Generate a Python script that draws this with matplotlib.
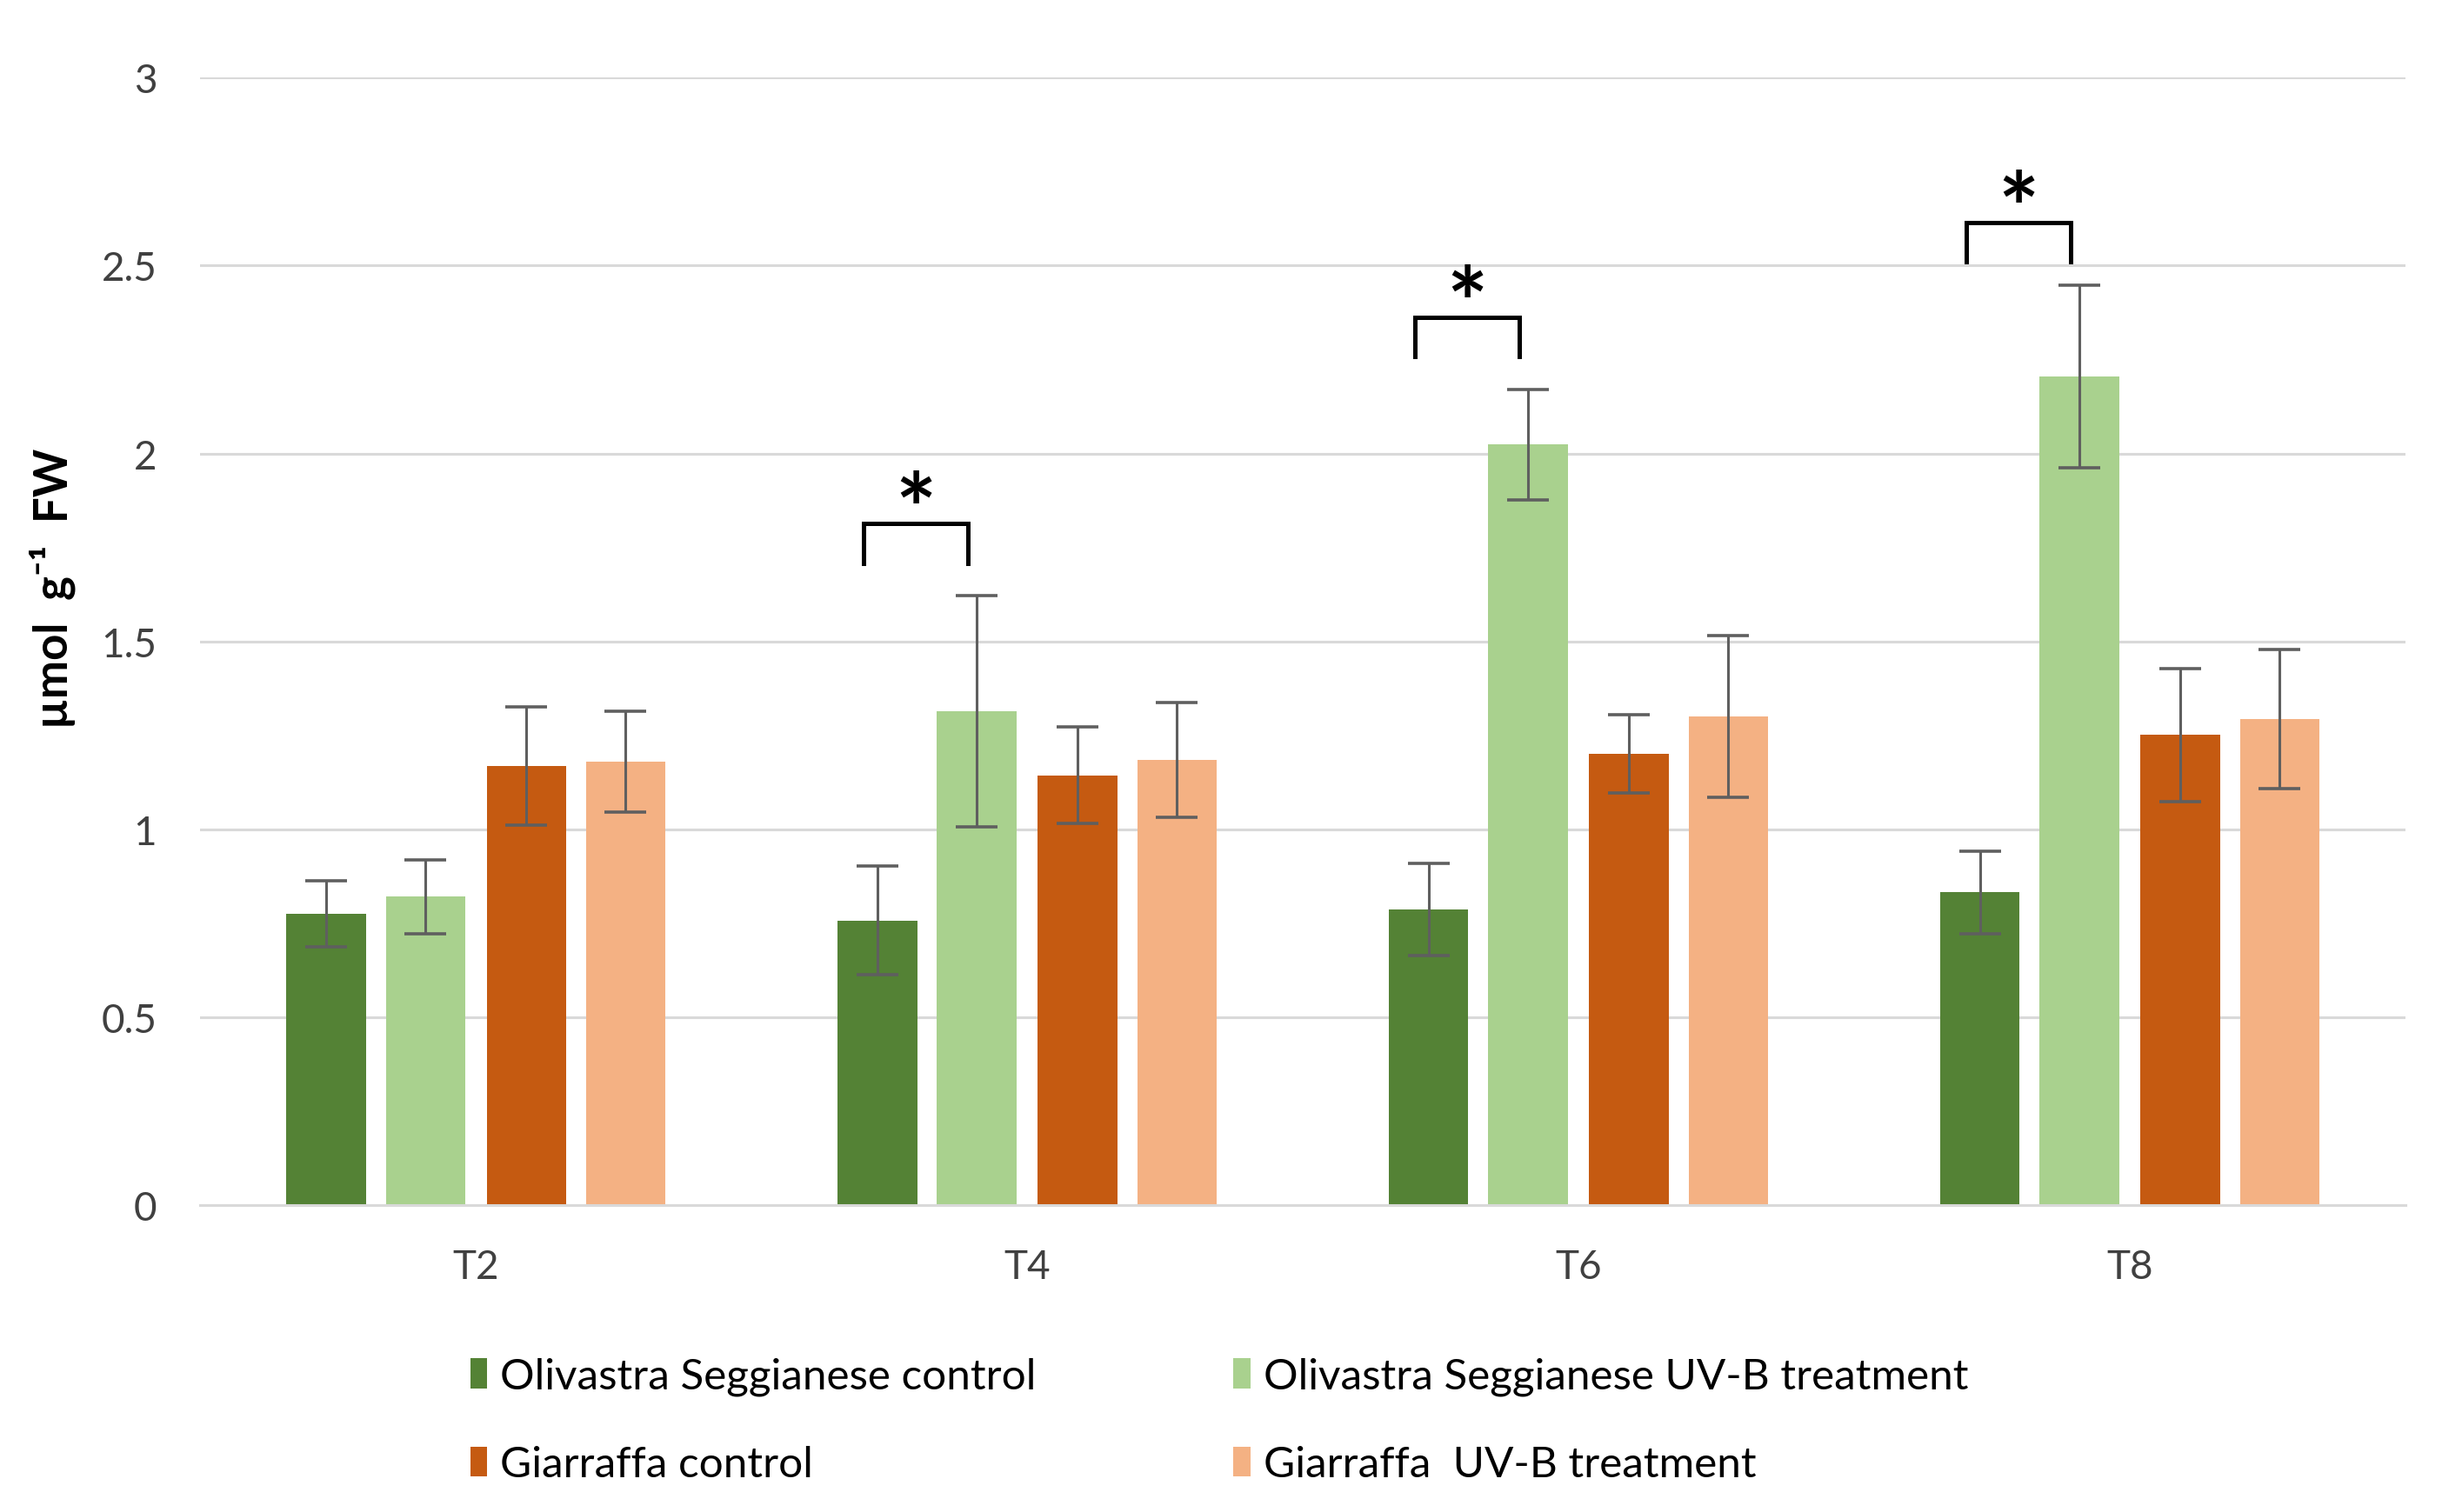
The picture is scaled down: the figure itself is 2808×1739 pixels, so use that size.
import matplotlib
matplotlib.use('Agg')
import matplotlib.pyplot as plt
import numpy as np

plt.rcParams['font.family'] = ['Lato', 'DejaVu Sans']

times = ['T2', 'T4', 'T6', 'T8']
series_names = ['Olivastra Seggianese control', 'Olivastra Seggianese UV-B treatment',
                'Giarraffa control', 'Giarraffa  UV-B treatment']
os_control = [0.776, 0.758, 0.787, 0.833]
os_control_err = [0.088, 0.145, 0.122, 0.110]
os_uvb = [0.821, 1.314, 2.024, 2.204]
os_uvb_err = [0.099, 0.307, 0.147, 0.243]
gi_control = [1.169, 1.144, 1.200, 1.251]
gi_control_err = [0.158, 0.129, 0.104, 0.177]
gi_uvb = [1.180, 1.185, 1.300, 1.293]
gi_uvb_err = [0.134, 0.153, 0.215, 0.185]
colors = ['#548235', '#A9D18E', '#C55A11', '#F4B183']

# significance brackets: time index, bracket height, leg bottom
sig_idx = [1, 2, 3]
sig_top = [1.815, 2.362, 2.615]
sig_leg = [1.707, 2.258, 2.511]

fig = plt.figure(figsize=(14.04, 8.7), dpi=200)
ax = fig.add_axes([0.082, 0.2027, 0.903, 0.7455])

x = np.arange(len(times))
offsets = [-0.2717, -0.0915, 0.0915, 0.2717]
width = 0.144
values = [os_control, os_uvb, gi_control, gi_uvb]
errs = [os_control_err, os_uvb_err, gi_control_err, gi_uvb_err]
bars = []
for off, v, e, c, name in zip(offsets, values, errs, colors, series_names):
    b = ax.bar(x + off, v, width, color=c, label=name, zorder=2,
               yerr=e, error_kw=dict(ecolor='#5F5F5F', elinewidth=1.1,
                                     capsize=8.5, capthick=1.3, zorder=3))
    bars.append(b)

for i, top, leg in zip(sig_idx, sig_top, sig_leg):
    x0, x1 = i - 0.297, i - 0.107
    ax.plot([x0, x0, x1, x1], [leg, top, top, leg], color='black', lw=1.8,
            solid_joinstyle='miter', zorder=4)
    ax.text((x0 + x1) / 2, top - 0.098, '*', ha='center', va='bottom',
            fontsize=40, fontweight='bold')

ax.set_xlim(-0.5, 3.5)
ax.set_ylim(0, 3)
ax.set_yticks([0, 0.5, 1, 1.5, 2, 2.5, 3])
ax.set_yticklabels(['0', '0.5', '1', '1.5', '2', '2.5', '3'])
ax.set_xticks(x)
ax.set_xticklabels(times)
ax.tick_params(axis='both', length=0, labelsize=16.5, colors='#404040')
ax.tick_params(axis='y', pad=18)
ax.tick_params(axis='x', pad=18)
ax.grid(axis='y', color='#D9D9D9', lw=1.1, zorder=0)
for s in ['left', 'right', 'top']:
    ax.spines[s].set_visible(False)
ax.spines['bottom'].set_color('#D9D9D9')
ax.spines['bottom'].set_linewidth(1.1)
ax.set_axisbelow(True)

ax.set_ylabel('µmol  g⁻¹  FW', fontsize=19, fontweight='bold')
ax.yaxis.set_label_coords(-0.0565, 0.548)

handles = [bars[0], bars[2], bars[1], bars[3]]
labels = [series_names[0], series_names[2], series_names[1], series_names[3]]
fig.legend(handles, labels, ncol=2, loc='upper left',
           bbox_to_anchor=(0.1925, 0.1024), frameon=False, fontsize=17.8,
           handlelength=0.4, handleheight=0.7, handletextpad=0.3,
           columnspacing=4.58, labelspacing=1.15, borderpad=0, borderaxespad=0)

fig.savefig('out.png', dpi=200)
